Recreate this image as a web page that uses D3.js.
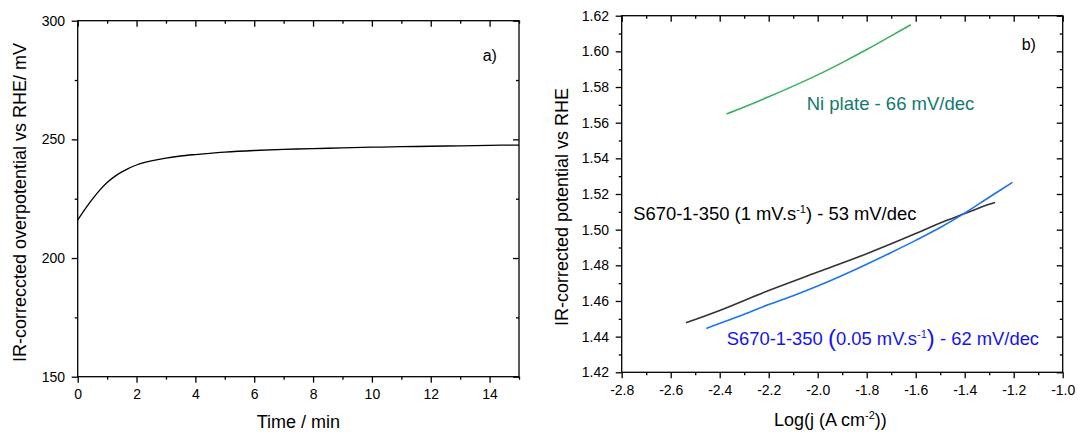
<!DOCTYPE html>
<html>
<head>
<meta charset="utf-8">
<script src="https://cdn.jsdelivr.net/npm/d3@7"></script>
<style>
  html, body { margin: 0; padding: 0; background: #fff; }
  svg { display: block; }
  text { font-family: "Liberation Sans", Arial, sans-serif; fill: #000; }
</style>
</head>
<body>
<svg id="chart" width="1078" height="432"></svg>
<script>
// ---- Panel a): overpotential during chronopotentiometry ----
const timeMin = [0, 0.25, 0.5, 0.75, 1, 1.25, 1.5, 1.75, 2, 2.5, 3, 3.5, 4, 4.5, 5, 6, 7, 8, 9, 10, 11, 12, 13, 14, 15];
const overpotential = [216, 220.6, 224.8, 228.6, 231.8, 234.3, 236.3, 237.9, 239.2, 240.9, 242.1, 243.0, 243.6, 244.1, 244.6, 245.3, 245.8, 246.1, 246.4, 246.7, 246.9, 247.1, 247.3, 247.5, 247.6];
const timeTicks = [0, 2, 4, 6, 8, 10, 12, 14];
const timeMinorTicks = [1, 3, 5, 7, 9, 11, 13, 15];
const potTicks = [150, 200, 250, 300];
const potMinorTicks = [175, 225, 275];

// ---- Panel b): Tafel plots ----
const niLogJ = [-2.372, -2.3, -2.2, -2.1, -2.0, -1.9, -1.8, -1.7, -1.62];
const niPot = [1.5649, 1.5688, 1.5745, 1.5805, 1.5868, 1.5937, 1.6010, 1.6087, 1.6149];
const s1LogJ = [-2.538, -2.4, -2.2, -2.0, -1.8, -1.6, -1.5, -1.4, -1.3, -1.276];
const s1Pot = [1.4478, 1.4547, 1.4659, 1.4762, 1.4865, 1.4978, 1.5038, 1.5090, 1.5142, 1.5152];
const s005LogJ = [-2.455, -2.3, -2.2, -2.1, -2.0, -1.9, -1.8, -1.7, -1.6, -1.5, -1.4, -1.3, -1.205];
const s005Pot = [1.4446, 1.4525, 1.4580, 1.4630, 1.4684, 1.4743, 1.4806, 1.4872, 1.4940, 1.5012, 1.5093, 1.5182, 1.5265];
const logJTicks = [-2.8, -2.6, -2.4, -2.2, -2.0, -1.8, -1.6, -1.4, -1.2, -1.0];
const logJMinorTicks = [-2.7, -2.5, -2.3, -2.1, -1.9, -1.7, -1.5, -1.3, -1.1];
const eTicks = [1.42, 1.44, 1.46, 1.48, 1.50, 1.52, 1.54, 1.56, 1.58, 1.60, 1.62];
const eMinorTicks = [1.43, 1.45, 1.47, 1.49, 1.51, 1.53, 1.55, 1.57, 1.59, 1.61];

const svg = d3.select("#chart");
svg.append("rect").attr("width", 1078).attr("height", 432).attr("fill", "#fff");

const TICK = 6, MINOR = 3, PAD = 6.7, AXW = 1.3;

function drawFrame(g, x, y, xMajor, xMinor, yMajor, yMinor, xFmt, yFmt) {
  const [x0, x1] = x.range();
  const [y0, y1] = y.range(); // y0 = bottom, y1 = top
  const style = sel => {
    sel.select(".domain").remove();
    sel.selectAll("line").attr("stroke", "#000").attr("stroke-width", AXW);
    sel.selectAll("text").attr("font-size", 14).attr("fill", "#000");
  };
  // bottom (outward)
  g.append("g").attr("transform", `translate(0,${y0})`)
    .call(d3.axisBottom(x).tickValues(xMajor).tickFormat(xFmt).tickSizeInner(TICK).tickSizeOuter(0).tickPadding(PAD)).call(style);
  g.append("g").attr("transform", `translate(0,${y0})`)
    .call(d3.axisBottom(x).tickValues(xMinor).tickFormat("").tickSizeInner(MINOR).tickSizeOuter(0)).call(style);
  // left (outward)
  g.append("g").attr("transform", `translate(${x0},0)`)
    .call(d3.axisLeft(y).tickValues(yMajor).tickFormat(yFmt).tickSizeInner(TICK).tickSizeOuter(0).tickPadding(PAD)).call(style);
  g.append("g").attr("transform", `translate(${x0},0)`)
    .call(d3.axisLeft(y).tickValues(yMinor).tickFormat("").tickSizeInner(MINOR).tickSizeOuter(0)).call(style);
  // top (inward)
  g.append("g").attr("transform", `translate(0,${y1})`)
    .call(d3.axisTop(x).tickValues(xMajor).tickFormat("").tickSizeInner(-TICK).tickSizeOuter(0)).call(style);
  g.append("g").attr("transform", `translate(0,${y1})`)
    .call(d3.axisTop(x).tickValues(xMinor).tickFormat("").tickSizeInner(-MINOR).tickSizeOuter(0)).call(style);
  // right (inward)
  g.append("g").attr("transform", `translate(${x1},0)`)
    .call(d3.axisRight(y).tickValues(yMajor).tickFormat("").tickSizeInner(-TICK).tickSizeOuter(0)).call(style);
  g.append("g").attr("transform", `translate(${x1},0)`)
    .call(d3.axisRight(y).tickValues(yMinor).tickFormat("").tickSizeInner(-MINOR).tickSizeOuter(0)).call(style);
  g.append("rect").attr("x", x0).attr("y", y1).attr("width", x1 - x0).attr("height", y0 - y1)
    .attr("fill", "none").attr("stroke", "#000").attr("stroke-width", AXW);
}

// ---------- Panel a ----------
const xA = d3.scaleLinear().domain([0, 15]).range([77.7, 519]);
const yA = d3.scaleLinear().domain([150, 300]).range([376.7, 20.7]);
const gA = svg.append("g");

const lineA = d3.line().x(d => xA(d[0])).y(d => yA(d[1])).curve(d3.curveCatmullRom);
gA.append("path").datum(timeMin.map((t, i) => [t, overpotential[i]]))
  .attr("d", lineA).attr("fill", "none").attr("stroke", "#000").attr("stroke-width", 1.3);

drawFrame(gA, xA, yA, timeTicks, timeMinorTicks, potTicks, potMinorTicks, d => String(d), d => String(d));

gA.append("text").attr("x", 298.3).attr("y", 428).attr("text-anchor", "middle")
  .attr("font-size", 18).text("Time / min");
gA.append("text").attr("transform", "translate(26,202.5) rotate(-90)").attr("text-anchor", "middle")
  .attr("font-size", 18).text("IR-correccted overpotential vs RHE/ mV");
gA.append("text").attr("x", 482.7).attr("y", 61).attr("font-size", 16).text("a)");

// ---------- Panel b ----------
const xB = d3.scaleLinear().domain([-2.8, -1.0]).range([621.7, 1062.7]);
const yB = d3.scaleLinear().domain([1.42, 1.62]).range([372.3, 15.7]);
const gB = svg.append("g");

const lineB = d3.line().x(d => xB(d[0])).y(d => yB(d[1])).curve(d3.curveCatmullRom);
const curves = [
  { x: niLogJ, y: niPot, color: "#3bb062" },
  { x: s1LogJ, y: s1Pot, color: "#333333" },
  { x: s005LogJ, y: s005Pot, color: "#1f74e6" }
];
curves.forEach(c => {
  gB.append("path").datum(c.x.map((v, i) => [v, c.y[i]]))
    .attr("d", lineB).attr("fill", "none").attr("stroke", c.color).attr("stroke-width", 1.6);
});

drawFrame(gB, xB, yB, logJTicks, logJMinorTicks, eTicks, eMinorTicks, d => d.toFixed(1), d => d.toFixed(2));

const xt = gB.append("text").attr("x", 774).attr("y", 426).attr("font-size", 18);
xt.append("tspan").text("Log(j (A cm");
xt.append("tspan").attr("font-size", 11).attr("dy", -7).text("-2");
xt.append("tspan").attr("dy", 7).text("))");

gB.append("text").attr("transform", "translate(568,207) rotate(-90)").attr("text-anchor", "middle")
  .attr("font-size", 18).text("IR-corrected potential vs RHE");
gB.append("text").attr("x", 1021.7).attr("y", 50).attr("font-size", 16).text("b)");

gB.append("text").attr("x", 806.7).attr("y", 109.6).attr("font-size", 18.5)
  .style("fill", "#127a6e").text("Ni plate - 66 mV/dec");

const lb1 = gB.append("text").attr("x", 633.3).attr("y", 220).attr("font-size", 18.4);
lb1.append("tspan").text("S670-1-350 (1 mV.s");
lb1.append("tspan").attr("font-size", 11).attr("dy", -7).text("-1");
lb1.append("tspan").attr("dy", 7).text(") - 53 mV/dec");

const lb2 = gB.append("text").attr("x", 726.7).attr("y", 345).attr("font-size", 18.4).style("fill", "#1414f0");
lb2.append("tspan").style("fill", "#1414f0").text("S670-1-350 ");
lb2.append("tspan").style("fill", "#1414f0").attr("font-size", 24).attr("dy", 1).text("(");
lb2.append("tspan").style("fill", "#1414f0").attr("dy", -1).text("0.05 mV.s");
lb2.append("tspan").style("fill", "#1414f0").attr("font-size", 11).attr("dy", -7).text("-1");
lb2.append("tspan").style("fill", "#1414f0").attr("font-size", 24).attr("dy", 8).text(")");
lb2.append("tspan").style("fill", "#1414f0").attr("dy", -1).text(" - 62 mV/dec");
</script>
</body>
</html>
